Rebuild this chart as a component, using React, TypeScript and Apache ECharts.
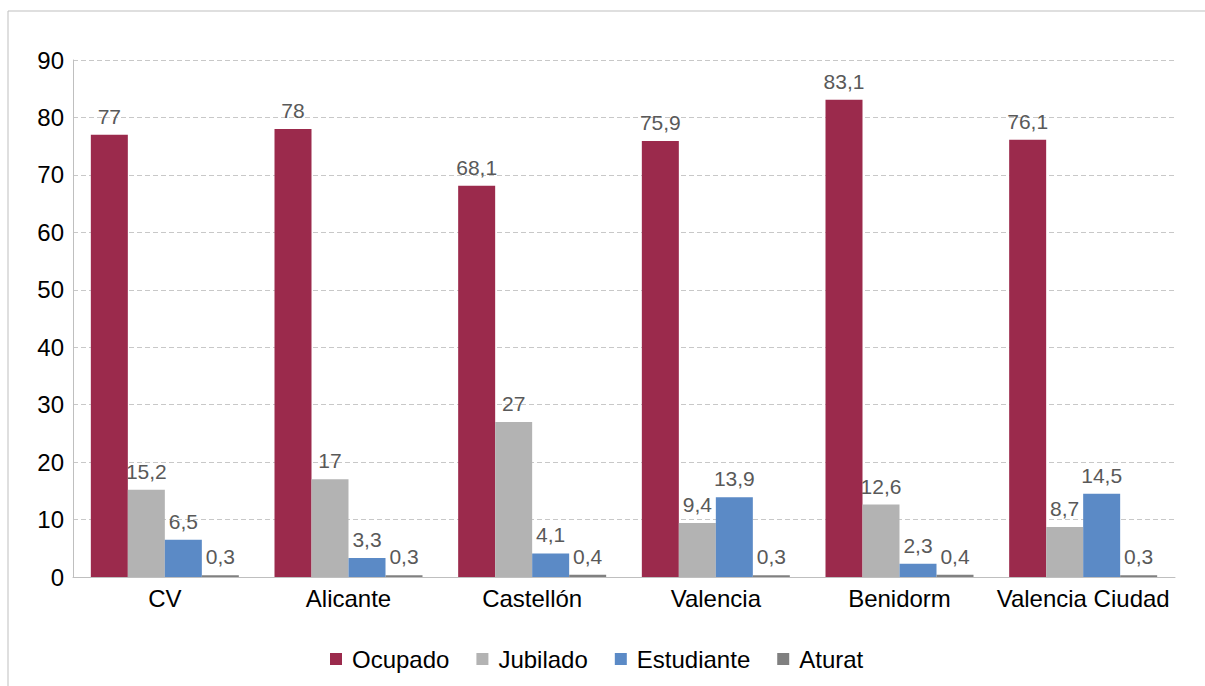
import React, { useEffect, useRef } from "react";
import * as echarts from "echarts";

const categories = ["CV", "Alicante", "Castellón", "Valencia", "Benidorm", "Valencia Ciudad"];
const ocupado = [77, 78, 68.1, 75.9, 83.1, 76.1];
const jubilado = [15.2, 17, 27, 9.4, 12.6, 8.7];
const estudiante = [6.5, 3.3, 4.1, 13.9, 2.3, 14.5];
const aturat = [0.3, 0.3, 0.4, 0.3, 0.4, 0.3];
const seriesNames = ["Ocupado", "Jubilado", "Estudiante", "Aturat"];
const colors = ["#9B2A4C", "#B3B3B3", "#5B8AC6", "#808080"];

const FONT = "Liberation Sans, Arial, sans-serif";

export default function App() {
  const ref = useRef<HTMLDivElement>(null);
  useEffect(() => {
    if (!ref.current) return;
    const chart = echarts.init(ref.current, undefined, { renderer: "svg" });
    const data = [ocupado, jubilado, estudiante, aturat];
    chart.setOption({
      animation: false,
      textStyle: { fontFamily: FONT },
      graphic: [
        {
          type: "rect",
          shape: { x: 8, y: 11, width: 1400, height: 900 },
          style: { fill: "none", stroke: "#BFBFBF", lineWidth: 1 },
          silent: true,
          z: -10,
        },
      ],
      grid: { left: 73, right: 30, top: 60, bottom: 109 },
      legend: {
        top: 642,
        left: 325,
        itemWidth: 12,
        itemHeight: 12,
        itemGap: 27,
        icon: "rect",
        textStyle: { fontSize: 24, color: "#000", fontFamily: FONT, padding: [0, 0, 0, 5] },
        data: seriesNames,
      },
      xAxis: {
        type: "category",
        data: categories,
        axisLine: { lineStyle: { color: "#BFBFBF", width: 1 } },
        axisTick: { show: false },
        axisLabel: { fontSize: 24, color: "#000", margin: 9, interval: 0, fontFamily: FONT },
      },
      yAxis: {
        type: "value",
        min: 0,
        max: 90,
        interval: 10,
        axisLine: { show: true, lineStyle: { color: "#BFBFBF" } },
        axisTick: { show: false },
        axisLabel: { fontSize: 24, color: "#000", margin: 9, fontFamily: FONT },
        splitLine: { lineStyle: { color: "#C8C8C8", type: [5, 3] } },
      },
      series: seriesNames.map((name, i) => ({
        name,
        type: "bar",
        data: data[i],
        barWidth: 37,
        barGap: "0%",
        itemStyle: { color: colors[i] },
        label: {
          show: true,
          position: "top",
          distance: 8,
          fontSize: 21,
          color: "#595959",
          fontFamily: FONT,
          formatter: (p: any) => String(p.value).replace(".", ","),
        },
      })),
    });
    return () => chart.dispose();
  }, []);
  return (
    <div
      ref={ref}
      style={{ position: "absolute", left: 0, top: 0, width: 1205, height: 686, background: "#fff" }}
    />
  );
}
